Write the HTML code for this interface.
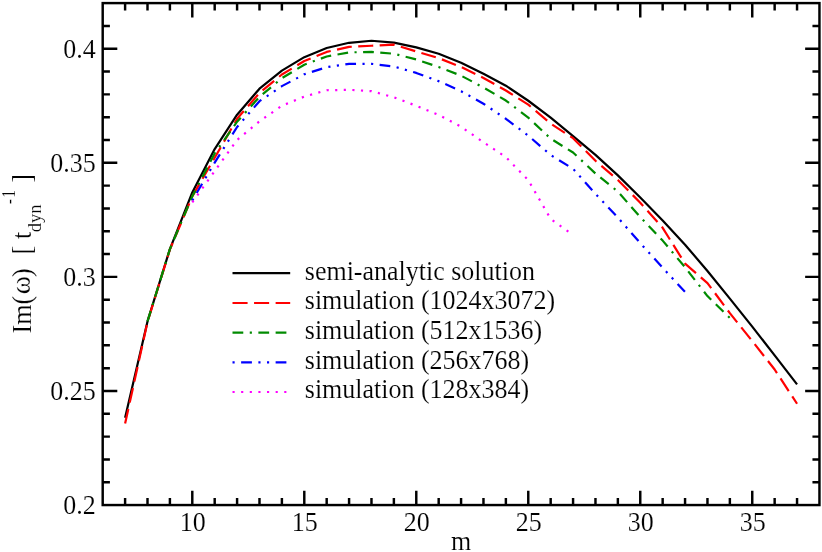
<!DOCTYPE html>
<html><head><meta charset="utf-8"><title>Im(omega) vs m</title>
<style>
html,body{margin:0;padding:0;background:#fff;}
body{width:822px;height:552px;overflow:hidden;}
svg{display:block;}
text{font-family:"Liberation Serif",serif;fill:#000;stroke:#fff;stroke-width:0.15px;}
#txt{opacity:0.999;}
</style></head><body>
<svg width="822" height="552" viewBox="0 0 822 552">
<rect x="0" y="0" width="822" height="552" fill="#fff"/>
<polyline fill="none" stroke="#000" stroke-width="2.20" stroke-linejoin="round" points="125.10,417.67 147.50,321.38 169.90,249.06 192.29,192.47 214.69,149.12 237.09,114.67 259.49,88.66 281.89,70.64 304.29,57.17 326.68,48.05 349.08,42.80 371.48,40.75 393.88,42.57 416.28,47.36 438.68,53.75 461.07,62.65 483.47,73.83 505.87,85.69 528.27,100.75 550.67,117.64 573.07,136.12 595.47,154.83 617.86,175.36 640.26,197.49 662.66,220.54 685.06,244.72 707.46,270.96 729.86,298.57 752.25,326.63 774.65,355.38 797.05,384.35"/>
<polyline fill="none" stroke="#ff0000" stroke-width="2.20" stroke-linejoin="round" points="125.10,423.60 147.50,321.84 169.90,249.51 192.29,196.35 214.69,157.79 237.09,118.78 259.49,92.99 281.89,74.51 304.29,61.05 326.68,51.93 349.08,46.91 371.48,45.77 393.88,44.62 416.28,51.47 438.68,58.09 461.07,66.98 483.47,77.94 505.87,90.48 528.27,104.63 550.67,123.57 573.07,138.17 595.47,160.76 617.86,179.92 640.26,202.74 662.66,227.84 685.06,263.66 707.46,283.05 729.86,313.17 752.25,341.00 774.65,369.52 797.05,403.75" stroke-dasharray="15.043,6.447"/>
<polyline fill="none" stroke="#008b00" stroke-width="2.20" stroke-linejoin="round" points="147.50,321.38 169.90,249.06 192.29,196.35 214.69,153.46 237.09,121.74 259.49,96.87 281.89,78.16 304.29,64.70 326.68,56.49 349.08,52.38 371.48,51.93 393.88,53.75 416.28,59.46 438.68,66.98 461.07,75.65 483.47,87.52 505.87,100.52 528.27,117.64 550.67,138.63 573.07,152.54 595.47,173.53 617.86,191.56 640.26,217.11 662.66,240.61 685.06,267.31 707.46,296.06 729.86,317.96" stroke-dasharray="10.745,6.447,2.149,6.447,10.745,6.447"/>
<polyline fill="none" stroke="#0000ff" stroke-width="2.20" stroke-linejoin="round" points="192.29,200.46 214.69,162.58 237.09,126.99 259.49,101.21 281.89,86.15 304.29,74.29 326.68,67.21 349.08,63.79 371.48,63.79 393.88,66.53 416.28,72.92 438.68,81.13 461.07,91.17 483.47,103.72 505.87,118.78 528.27,135.66 550.67,155.05 573.07,168.74 595.47,193.84 617.86,217.57 640.26,243.12 662.66,267.76 685.06,291.95" stroke-dasharray="2.149,6.447,10.745,6.447,2.149,6.447"/>
<polyline fill="none" stroke="#ff00ff" stroke-width="2.20" stroke-linejoin="round" points="192.29,202.28 214.69,171.03 237.09,140.00 259.49,121.29 281.89,105.77 304.29,96.65 326.68,90.26 349.08,89.80 371.48,91.17 393.88,97.33 416.28,105.77 438.68,114.90 461.07,126.76 483.47,142.28 505.87,157.11 528.27,180.15 550.67,218.94 573.07,234.91" stroke-dasharray="2.149,6.447"/>
<path d="M125.10 505.05V497.95M125.10 3.10V10.60M147.50 505.05V497.95M147.50 3.10V10.60M169.90 505.05V497.95M169.90 3.10V10.60M192.29 505.05V490.75M192.29 3.10V17.60M214.69 505.05V497.95M214.69 3.10V10.60M237.09 505.05V497.95M237.09 3.10V10.60M259.49 505.05V497.95M259.49 3.10V10.60M281.89 505.05V497.95M281.89 3.10V10.60M304.29 505.05V490.75M304.29 3.10V17.60M326.68 505.05V497.95M326.68 3.10V10.60M349.08 505.05V497.95M349.08 3.10V10.60M371.48 505.05V497.95M371.48 3.10V10.60M393.88 505.05V497.95M393.88 3.10V10.60M416.28 505.05V490.75M416.28 3.10V17.60M438.68 505.05V497.95M438.68 3.10V10.60M461.07 505.05V497.95M461.07 3.10V10.60M483.47 505.05V497.95M483.47 3.10V10.60M505.87 505.05V497.95M505.87 3.10V10.60M528.27 505.05V490.75M528.27 3.10V17.60M550.67 505.05V497.95M550.67 3.10V10.60M573.07 505.05V497.95M573.07 3.10V10.60M595.47 505.05V497.95M595.47 3.10V10.60M617.86 505.05V497.95M617.86 3.10V10.60M640.26 505.05V490.75M640.26 3.10V17.60M662.66 505.05V497.95M662.66 3.10V10.60M685.06 505.05V497.95M685.06 3.10V10.60M707.46 505.05V497.95M707.46 3.10V10.60M729.86 505.05V497.95M729.86 3.10V10.60M752.25 505.05V490.75M752.25 3.10V17.60M774.65 505.05V497.95M774.65 3.10V10.60M797.05 505.05V497.95M797.05 3.10V10.60M102.70 482.23H109.90M819.45 482.23H812.45M102.70 459.42H109.90M819.45 459.42H812.45M102.70 436.60H109.90M819.45 436.60H812.45M102.70 413.79H109.90M819.45 413.79H812.45M102.70 390.97H117.30M819.45 390.97H805.15M102.70 368.15H109.90M819.45 368.15H812.45M102.70 345.34H109.90M819.45 345.34H812.45M102.70 322.52H109.90M819.45 322.52H812.45M102.70 299.71H109.90M819.45 299.71H812.45M102.70 276.89H117.30M819.45 276.89H805.15M102.70 254.08H109.90M819.45 254.08H812.45M102.70 231.26H109.90M819.45 231.26H812.45M102.70 208.44H109.90M819.45 208.44H812.45M102.70 185.63H109.90M819.45 185.63H812.45M102.70 162.81H117.30M819.45 162.81H805.15M102.70 140.00H109.90M819.45 140.00H812.45M102.70 117.18H109.90M819.45 117.18H812.45M102.70 94.36H109.90M819.45 94.36H812.45M102.70 71.55H109.90M819.45 71.55H812.45M102.70 48.73H117.30M819.45 48.73H805.15M102.70 25.92H109.90M819.45 25.92H812.45" stroke="#000" stroke-width="2.45" fill="none"/>
<rect x="102.70" y="3.10" width="716.75" height="501.95" fill="none" stroke="#000" stroke-width="2.45"/>
<g id="txt">
<text transform="translate(192.79,530.80) scale(0.9413,1)" font-size="27.60" text-anchor="middle">10</text>
<text transform="translate(304.79,530.80) scale(0.9413,1)" font-size="27.60" text-anchor="middle">15</text>
<text transform="translate(416.78,530.80) scale(0.9413,1)" font-size="27.60" text-anchor="middle">20</text>
<text transform="translate(528.77,530.80) scale(0.9413,1)" font-size="27.60" text-anchor="middle">25</text>
<text transform="translate(640.76,530.80) scale(0.9413,1)" font-size="27.60" text-anchor="middle">30</text>
<text transform="translate(752.75,530.80) scale(0.9413,1)" font-size="27.60" text-anchor="middle">35</text>
<text transform="translate(95.70,514.25) scale(0.9413,1)" font-size="27.60" text-anchor="end">0.2</text>
<text transform="translate(95.70,400.17) scale(0.9413,1)" font-size="27.60" text-anchor="end">0.25</text>
<text transform="translate(95.70,286.09) scale(0.9413,1)" font-size="27.60" text-anchor="end">0.3</text>
<text transform="translate(95.70,172.01) scale(0.9413,1)" font-size="27.60" text-anchor="end">0.35</text>
<text transform="translate(95.70,57.93) scale(0.9413,1)" font-size="27.60" text-anchor="end">0.4</text>
<text transform="translate(461.20,549.80) scale(0.9413,1)" font-size="27.60" text-anchor="middle">m</text>
<text transform="translate(30.70,333.40) rotate(-90) scale(0.9413,1)" font-size="27.60" xml:space="preserve">Im(</text>
<text transform="translate(30.00,294.30) rotate(-90) scale(1.0000,1)" font-size="27.60" stroke="#000" stroke-width="0.55" xml:space="preserve">ω</text>
<text transform="translate(30.70,276.90) rotate(-90) scale(0.9413,1)" font-size="27.60" xml:space="preserve">)</text>
<text transform="translate(30.70,254.60) rotate(-90) scale(0.9413,1)" font-size="27.60" xml:space="preserve">[</text>
<text transform="translate(30.70,239.10) rotate(-90) scale(0.9413,1)" font-size="27.60" xml:space="preserve">t</text>
<text transform="translate(40.85,232.30) rotate(-90) scale(0.9413,1)" font-size="19.60" xml:space="preserve">dyn</text>
<text transform="translate(14.55,204.10) rotate(-90) scale(0.7500,1)" font-size="19.60" xml:space="preserve">-</text>
<text transform="translate(14.55,197.60) rotate(-90) scale(0.7500,1)" font-size="19.60" xml:space="preserve">1</text>
<text transform="translate(30.70,182.70) rotate(-90) scale(0.9413,1)" font-size="27.60" xml:space="preserve">]</text>
<path d="M232.5 273.15H290.2" stroke="#000" stroke-width="2.20" fill="none"/>
<text transform="translate(304.80,279.50) scale(0.9413,1)" font-size="27.60" text-anchor="start">semi-analytic solution</text>
<path d="M232.5 303.00H290.2" stroke="#ff0000" stroke-width="2.20" fill="none" stroke-dasharray="15.092,6.468"/>
<text transform="translate(304.80,309.35) scale(0.9413,1)" font-size="27.60" text-anchor="start">simulation (1024x3072)</text>
<path d="M232.5 332.70H290.2" stroke="#008b00" stroke-width="2.20" fill="none" stroke-dasharray="10.780,6.468,2.156,6.468,10.780,6.468"/>
<text transform="translate(304.80,339.05) scale(0.9413,1)" font-size="27.60" text-anchor="start">simulation (512x1536)</text>
<path d="M232.5 362.30H290.2" stroke="#0000ff" stroke-width="2.20" fill="none" stroke-dasharray="2.156,6.468,10.780,6.468,2.156,6.468"/>
<text transform="translate(304.80,368.65) scale(0.9413,1)" font-size="27.60" text-anchor="start">simulation (256x768)</text>
<path d="M232.5 392.00H290.2" stroke="#ff00ff" stroke-width="2.20" fill="none" stroke-dasharray="2.156,6.468"/>
<text transform="translate(304.80,398.35) scale(0.9413,1)" font-size="27.60" text-anchor="start">simulation (128x384)</text>
</g>
</svg>
</body></html>
